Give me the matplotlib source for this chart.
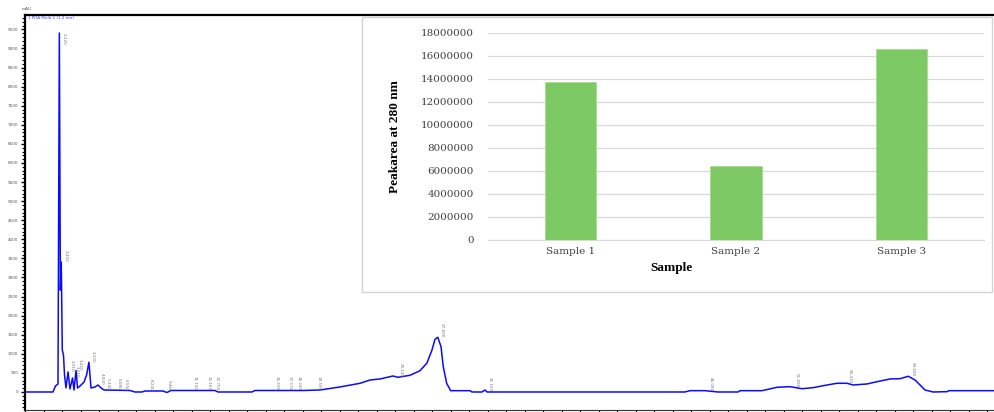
import matplotlib.pyplot as plt
import matplotlib.patches as patches
from matplotlib.ticker import MultipleLocator, StrMethodFormatter
import numpy as np

# chromatogram trace (time in min, absorbance in mAU)
time = [0.00, 1.89, 2.06, 2.23, 2.32, 2.39, 2.45, 2.52, 2.60, 2.67, 2.77, 2.91,
        3.04, 3.21, 3.31, 3.45, 3.55, 3.72, 3.99, 4.16, 4.32, 4.46, 4.73, 4.93,
        5.14, 5.34, 7.09, 7.43, 7.91, 8.11, 9.32, 9.59, 9.86, 12.84, 13.04, 15.34,
        15.54, 18.78, 19.93, 21.28, 22.64, 23.31, 23.99, 24.86, 25.20, 26.01, 26.69,
        27.16, 27.50, 27.70, 27.89, 28.11, 28.26, 28.49, 28.76, 30.07, 30.20, 30.88,
        31.08, 31.22, 44.59, 44.93, 45.95, 46.82, 48.18, 48.31, 49.80, 50.81, 51.69,
        52.50, 53.24, 54.19, 54.86, 55.54, 55.95, 56.89, 57.57, 58.45, 59.12, 59.68,
        60.14, 60.81, 61.35, 62.30, 62.43, 65.54]
absorb = [0, 0, 157, 210, 9405, 2670, 3406, 1100, 969, 445, 105, 524,
          79, 367, 52, 560, 105, 157, 262, 445, 780, 105, 131, 183,
          105, 52, 39, 0, 0, 26, 26, -13, 39, 39, 0, 0,
          39, 39, 52, 131, 228, 314, 341, 419, 385, 437, 558,
          760, 1100, 1380, 1433, 1187, 664, 228, 34, 34, 0, 0,
          52, 0, 0, 34, 34, 0, 0, 34, 34, 123, 139,
          86, 113, 183, 228, 228, 183, 210, 270, 341, 348, 411,
          314, 52, 0, 8, 34, 34]

# retention times printed next to the peaks
peak_times = [2.32, 2.45, 2.91, 3.21, 3.45, 4.32, 4.93, 5.34, 6.08, 6.55, 8.24,
              9.46, 11.15, 12.16, 12.70, 16.69, 17.57, 18.24, 19.59, 25.14,
              27.89, 31.15, 46.08, 51.89, 55.41, 59.68]

# inset bar chart
samples = ['Sample 1', 'Sample 2', 'Sample 3']
peak_area = [13690000, 6450000, 16560000]

W, H = 995, 412
fig = plt.figure(figsize=(W / 100, H / 100), dpi=100)

ax = fig.add_axes([25 / W, 2 / H, 970 / W, 395 / H])
ax.plot(time, absorb, color='#0a0aff', lw=1.1)
ax.set_xlim(0, 65.54)
ax.set_ylim(-472, 9877)
ax.yaxis.set_major_locator(MultipleLocator(500))
ax.yaxis.set_minor_locator(MultipleLocator(100))
ax.xaxis.set_major_locator(MultipleLocator(2.5))
ax.xaxis.set_minor_locator(MultipleLocator(1.25))
ax.tick_params(axis='y', which='major', length=3, width=1, labelsize=3,
               labelcolor='#555555', pad=2)
ax.tick_params(axis='y', which='minor', length=2, width=0.8)
ax.tick_params(axis='x', which='both', length=3, width=0.8, labelbottom=False)
ax.set_yticks(np.arange(0, 9501, 500))
for side in ['left', 'top']:
    ax.spines[side].set_linewidth(1.6)
ax.spines['right'].set_visible(False)
ax.spines['bottom'].set_color('#333333')

for i, t in enumerate(peak_times):
    v = np.interp(t, time, absorb)
    va = 'top' if i == 0 else 'bottom'
    ax.annotate(f'{t:.3f}', (t, v), xytext=(1.5, 0), textcoords='offset points',
                rotation=270, fontsize=3, color='#777777', ha='left', va=va)

fig.text(22 / W, 1 - 9 / H, 'mAU', fontsize=3, color='#555555', va='center')
fig.text(28 / W, 1 - 18 / H, '1 PDA Multi 1 (1.2 nm)', fontsize=3,
         color='#3a3aff', va='center')

# inset frame
rect = patches.Rectangle((362 / W, 1 - 292 / H), 630 / W, 275 / H,
                         transform=fig.transFigure, facecolor='white',
                         edgecolor='#d3d3d3', lw=1, zorder=1)
fig.patches.append(rect)

bx = fig.add_axes([488 / W, 1 - 240 / H, 496 / W, 207.3 / H], zorder=2)
bx.bar(range(len(samples)), peak_area, width=0.31, color='#7dc963',
       edgecolor='#a8dc95', lw=0.6, zorder=3)
bx.set_xlim(-0.5, 2.5)
bx.set_ylim(0, 18000000)
bx.set_yticks(np.arange(0, 18000001, 2000000))
bx.yaxis.set_major_formatter(StrMethodFormatter('{x:.0f}'))
bx.set_xticks(range(len(samples)))
bx.set_xticklabels(samples)
bx.yaxis.grid(True, color='#d9d9d9', lw=0.9)
bx.set_axisbelow(True)
for side in ['left', 'right', 'top']:
    bx.spines[side].set_visible(False)
bx.spines['bottom'].set_color('#d9d9d9')
bx.tick_params(length=0, labelsize=7.5, labelcolor='#404040')
bx.tick_params(axis='y', pad=10)
bx.tick_params(axis='x', pad=5)
for lab in bx.get_xticklabels() + bx.get_yticklabels():
    lab.set_family('DejaVu Serif')
bx.set_ylabel('Peakarea at 280 nm', family='Liberation Serif', fontweight='bold',
              fontsize=9.5)
bx.yaxis.set_label_coords((395 - 488) / 496, 0.5)
bx.set_xlabel('Sample', family='Liberation Serif', fontweight='bold', fontsize=9.5)
bx.xaxis.set_label_coords((671 - 488) / 496, -(268 - 240) / 207.3)
bx.xaxis.label.set_va('center')
bx.yaxis.label.set_va('center')
bx.patch.set_alpha(0)

fig.savefig('out.png', dpi=100)
